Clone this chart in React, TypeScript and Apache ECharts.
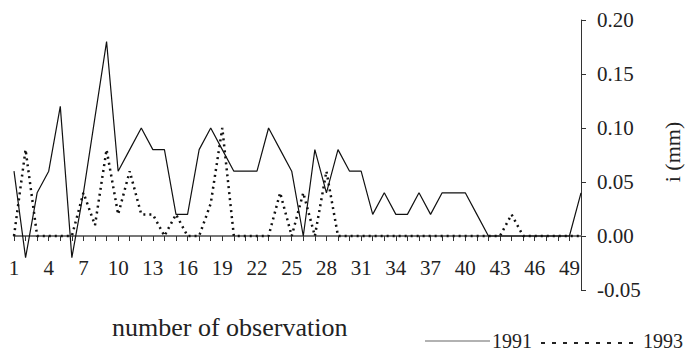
import React, { useEffect, useRef } from "react";
import * as echarts from "echarts";

const observations: string[] = Array.from({ length: 50 }, (_, i) => String(i + 1));

const series1991: number[] = [
  0.06, -0.02, 0.04, 0.06, 0.12, -0.02, 0.04, 0.11, 0.18, 0.06,
  0.08, 0.10, 0.08, 0.08, 0.02, 0.02, 0.08, 0.10, 0.08, 0.06,
  0.06, 0.06, 0.10, 0.08, 0.06, 0.00, 0.08, 0.04, 0.08, 0.06,
  0.06, 0.02, 0.04, 0.02, 0.02, 0.04, 0.02, 0.04, 0.04, 0.04,
  0.02, 0.00, 0.00, 0.00, 0.00, 0.00, 0.00, 0.00, 0.00, 0.04,
];

const series1993: number[] = [
  0.00, 0.08, 0.00, 0.00, 0.00, 0.00, 0.04, 0.01, 0.08, 0.02,
  0.06, 0.02, 0.02, 0.00, 0.02, 0.00, 0.00, 0.03, 0.10, 0.00,
  0.00, 0.00, 0.00, 0.04, 0.00, 0.04, 0.00, 0.06, 0.00, 0.00,
  0.00, 0.00, 0.00, 0.00, 0.00, 0.00, 0.00, 0.00, 0.00, 0.00,
  0.00, 0.00, 0.00, 0.02, 0.00, 0.00, 0.00, 0.00, 0.00, 0.00,
];

const yTicks = { min: -0.05, max: 0.2, interval: 0.05 };

const FONT = "Liberation Serif";

export default function App() {
  const ref = useRef<HTMLDivElement>(null);

  useEffect(() => {
    if (!ref.current) return;
    document.body.style.margin = "0";
    const chart = echarts.init(ref.current, undefined, { renderer: "svg" });
    chart.setOption({
      animation: false,
      backgroundColor: "#ffffff",
      textStyle: { fontFamily: FONT },
      grid: { left: 14, right: 107, top: 20, bottom: 63, containLabel: false },
      xAxis: [
        {
          type: "category",
          data: observations,
          boundaryGap: false,
          position: "bottom",
          axisLine: { show: false, onZero: false },
          axisTick: { show: false },
          axisLabel: {
            inside: true,
            interval: 2,
            fontSize: 21,
            fontFamily: FONT,
            color: "#222",
            margin: 12,
          },
          splitLine: { show: false },
        },
        {
          type: "category",
          data: observations,
          boundaryGap: false,
          position: "top",
          axisLine: { show: true, onZero: true, lineStyle: { color: "#777", width: 2 } },
          axisTick: { show: true, inside: true, interval: 0, length: 5, lineStyle: { color: "#333", width: 1 } },
          axisLabel: { show: false },
          splitLine: { show: false },
        },
      ],
      yAxis: {
        type: "value",
        position: "right",
        min: yTicks.min,
        max: yTicks.max,
        interval: yTicks.interval,
        axisLine: { show: true, lineStyle: { color: "#333", width: 1 } },
        axisTick: { show: true, length: 5, lineStyle: { color: "#333" } },
        axisLabel: {
          fontSize: 21,
          fontFamily: FONT,
          color: "#222",
          margin: 16,
          formatter: (v: number) => v.toFixed(2),
        },
        splitLine: { show: false },
      },
      series: [
        {
          name: "1991",
          type: "line",
          xAxisIndex: 0,
          data: series1991,
          symbol: "none",
          lineStyle: { color: "#111", width: 1.2, type: "solid" },
          z: 3,
        },
        {
          name: "1993",
          type: "line",
          xAxisIndex: 0,
          data: series1993,
          symbol: "none",
          lineStyle: { color: "#111", width: 2.5, type: [2, 4] },
          z: 2,
        },
      ],
      graphic: [
        {
          type: "text",
          x: 112,
          y: 327,
          style: {
            text: "number of observation",
            font: `26px ${FONT}`,
            fill: "#222",
            textAlign: "left",
            textVerticalAlign: "middle",
          },
        },
        {
          type: "text",
          x: 672,
          y: 152,
          rotation: Math.PI / 2,
          style: {
            text: "i (mm)",
            font: `22px ${FONT}`,
            fill: "#222",
            textAlign: "center",
            textVerticalAlign: "middle",
          },
        },
        {
          type: "line",
          shape: { x1: 425, y1: 341, x2: 490, y2: 341 },
          style: { stroke: "#666", lineWidth: 1.2 },
        },
        {
          type: "text",
          x: 492,
          y: 341,
          style: {
            text: "1991",
            font: `20px ${FONT}`,
            fill: "#222",
            textAlign: "left",
            textVerticalAlign: "middle",
          },
        },
        {
          type: "line",
          shape: { x1: 541, y1: 343, x2: 640, y2: 343 },
          style: { stroke: "#222", lineWidth: 2, lineDash: [4, 7] },
        },
        {
          type: "text",
          x: 643,
          y: 341,
          style: {
            text: "1993",
            font: `20px ${FONT}`,
            fill: "#222",
            textAlign: "left",
            textVerticalAlign: "middle",
          },
        },
      ],
    });
    return () => chart.dispose();
  }, []);

  return <div ref={ref} style={{ position: "absolute", left: 0, top: 0, width: 688, height: 353 }} />;
}
